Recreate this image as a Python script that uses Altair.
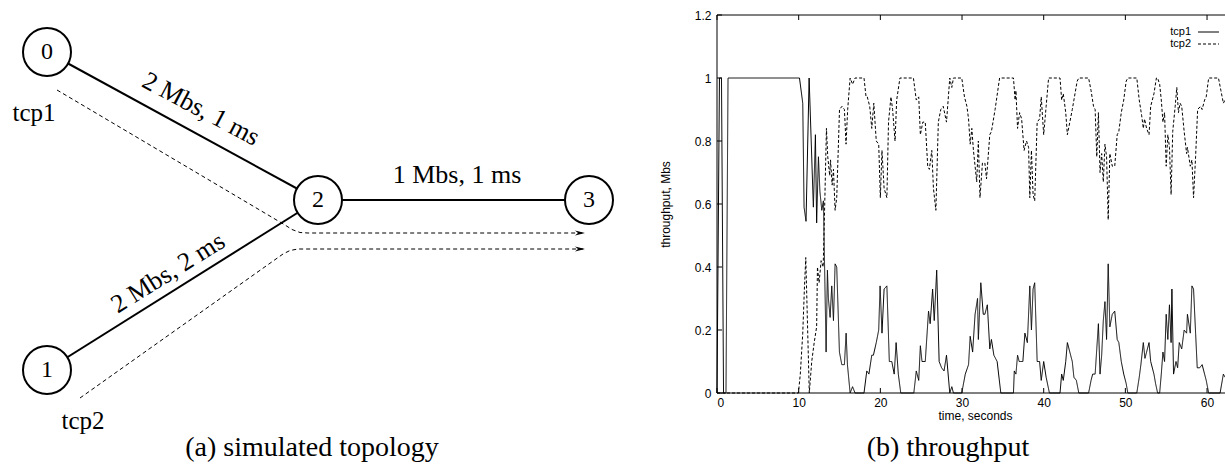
import altair as alt
import pandas as pd

# ------------------------------------------------------------------
# (b) throughput: (time [s], throughput [Mbs])
tcp1_points = [
    (0, 0), (0.3, 1), (0.55, 1), (0.8, 0), (1.1, 0), (1.35, 1), (10.1, 1),
    (10.5, 0.92), (10.66, 0.59), (10.9, 0.545), (11.28, 1.0), (11.8, 0.59),
    (12.05, 0.82), (12.2, 0.54), (12.42, 0.75), (12.6, 0.64), (12.83, 0.58),
    (13.03, 0.61), (13.36, 0.13), (13.52, 0.39), (13.64, 0.30), (13.85, 0.24),
    (14.05, 0.34), (14.26, 0.23), (14.46, 0.41), (14.66, 0.40), (14.99, 0.13),
    (15.28, 0.09), (15.6, 0.09), (15.81, 0.19), (15.97, 0.09), (16.3, 0),
    (16.6, 0.02), (16.9, 0), (18.0, 0), (18.34, 0.07), (18.6, 0.06),
    (18.95, 0.12), (19.15, 0.12), (19.5, 0.16), (19.8, 0.2), (19.97, 0.34),
    (20.2, 0.19), (20.46, 0.33), (20.8, 0.34), (21.1, 0.1), (21.4, 0.1),
    (21.7, 0.06), (21.93, 0.16), (22.2, 0.06), (22.5, 0), (24.1, 0),
    (24.4, 0.07), (24.7, 0.04), (24.9, 0.15), (25.1, 0.1), (25.5, 0.1),
    (25.9, 0.26), (26.1, 0.22), (26.4, 0.33), (26.6, 0.23), (26.9, 0.39),
    (27.2, 0.1), (27.5, 0.08), (27.8, 0.07), (28.1, 0.12), (28.5, 0),
    (28.75, 0.02), (28.95, 0), (29.97, 0), (30.4, 0.06), (30.8, 0.09),
    (31.0, 0.18), (31.3, 0.13), (31.6, 0.25), (31.9, 0.3), (32.0, 0.17),
    (32.3, 0.35), (32.6, 0.25), (32.8, 0.25), (33.1, 0.28), (33.4, 0.14),
    (33.6, 0.17), (33.9, 0.12), (34.3, 0.1), (34.75, 0), (36.3, 0),
    (36.4, 0.07), (36.6, 0.06), (36.8, 0.12), (37.0, 0.1), (37.2, 0.1),
    (37.45, 0.1), (37.7, 0.19), (38.0, 0.16), (38.3, 0.34), (38.5, 0.2),
    (38.7, 0.33), (38.9, 0.35), (39.2, 0.1), (39.5, 0.1), (39.7, 0.04),
    (40.0, 0.1), (40.3, 0.05), (40.7, 0), (42.0, 0), (42.2, 0.06),
    (42.4, 0.04), (42.7, 0.1), (42.9, 0.16), (43.2, 0.13), (43.5, 0.1),
    (43.7, 0.05), (44.0, 0.04), (44.3, 0), (45.5, 0), (45.8, 0.04),
    (46.0, 0.06), (46.3, 0.06), (46.5, 0.14), (46.7, 0.22), (46.9, 0.06),
    (47.1, 0.12), (47.3, 0.23), (47.5, 0.29), (47.7, 0.17), (47.9, 0.41),
    (48.1, 0.21), (48.4, 0.25), (48.7, 0.26), (49.0, 0.17), (49.2, 0.16),
    (49.5, 0.1), (49.8, 0.06), (50.1, 0.03), (50.3, 0), (51.4, 0),
    (51.7, 0.05), (51.9, 0.09), (52.2, 0.16), (52.4, 0.11), (52.6, 0.13),
    (52.9, 0.16), (53.1, 0.1), (53.5, 0.06), (53.7, 0.03), (53.95, 0),
    (54.2, 0), (54.4, 0.06), (54.6, 0.13), (54.8, 0.1), (55.0, 0.25),
    (55.2, 0.17), (55.4, 0.28), (55.6, 0.16), (55.7, 0.33), (55.9, 0.06),
    (56.2, 0.1), (56.4, 0.08), (56.6, 0.16), (56.9, 0.14), (57.2, 0.2),
    (57.5, 0.19), (57.6, 0.25), (57.95, 0.19), (58.15, 0.34), (58.35, 0.33),
    (58.6, 0.19), (58.8, 0.08), (59.1, 0.08), (59.4, 0.09), (59.7, 0.06),
    (59.9, 0.04), (60.2, 0), (61.6, 0), (62.0, 0.06), (62.2, 0.05),
]
tcp2_points = [
    (0, 0), (9.97, 0), (10.2, 0.06), (10.5, 0.19), (10.7, 0.33), (10.87, 0.43),
    (11.3, 0), (11.6, 0.1), (11.9, 0.16), (12.2, 0.21), (12.3, 0.40),
    (12.5, 0.35), (12.75, 0.42), (13.0, 0.40), (13.2, 0.61), (13.4, 0.84),
    (13.56, 0.75), (13.8, 0.69), (13.9, 0.74), (14.1, 0.66), (14.26, 0.71),
    (14.46, 0.58), (14.66, 0.62), (15.0, 0.90), (15.3, 0.91), (15.6, 0.9),
    (15.8, 0.79), (16.0, 0.9), (16.3, 1), (16.6, 0.98), (16.9, 1), (18.0, 1),
    (18.25, 0.94), (18.4, 0.94), (18.7, 0.91), (18.95, 0.84), (19.2, 0.92),
    (19.5, 0.80), (19.8, 0.79), (20.0, 0.62), (20.2, 0.77), (20.46, 0.65),
    (20.8, 0.62), (21.0, 0.86), (21.3, 0.94), (21.5, 0.9), (21.8, 0.8),
    (22.0, 0.93), (22.4, 1), (24.05, 1), (24.4, 0.93), (24.7, 0.94),
    (24.9, 0.82), (25.2, 0.86), (25.5, 0.86), (25.8, 0.72), (26.0, 0.71),
    (26.3, 0.77), (26.5, 0.65), (26.8, 0.58), (27.1, 0.86), (27.4, 0.9),
    (27.7, 0.91), (28.1, 0.86), (28.5, 1), (28.75, 0.97), (28.95, 1),
    (29.97, 1), (30.3, 0.94), (30.6, 0.91), (30.8, 0.87), (31.0, 0.79),
    (31.2, 0.84), (31.4, 0.77), (31.6, 0.72), (31.8, 0.67), (32.0, 0.80),
    (32.2, 0.62), (32.5, 0.73), (32.8, 0.73), (33.0, 0.68), (33.4, 0.82),
    (33.6, 0.83), (34.05, 0.9), (34.6, 1), (36.3, 1), (36.5, 0.93),
    (36.6, 0.96), (36.8, 0.84), (37.05, 0.89), (37.3, 0.87), (37.6, 0.77),
    (37.9, 0.80), (38.15, 0.78), (38.3, 0.62), (38.5, 0.77), (38.7, 0.63),
    (38.9, 0.61), (39.2, 0.86), (39.5, 0.87), (39.7, 0.94), (40.0, 0.82),
    (40.3, 0.91), (40.6, 1), (42.0, 1), (42.2, 0.93), (42.4, 0.95),
    (42.7, 0.89), (42.9, 0.82), (43.2, 0.86), (43.5, 0.9), (43.7, 0.93),
    (44.1, 0.99), (44.3, 1), (45.5, 1), (45.8, 0.96), (46.1, 0.91),
    (46.3, 0.9), (46.5, 0.75), (46.7, 0.89), (46.9, 0.70), (47.1, 0.76),
    (47.3, 0.67), (47.5, 0.79), (47.7, 0.75), (47.9, 0.55), (48.1, 0.76),
    (48.4, 0.72), (48.7, 0.72), (49.0, 0.82), (49.2, 0.83), (49.5, 0.89),
    (49.8, 0.93), (50.1, 0.99), (50.3, 1), (51.4, 1), (51.7, 0.93),
    (52.0, 0.88), (52.2, 0.84), (52.35, 0.87), (52.6, 0.84), (52.9, 0.82),
    (53.1, 0.91), (53.5, 0.95), (53.8, 1), (53.95, 1), (54.2, 0.98),
    (54.4, 0.93), (54.6, 0.86), (54.8, 0.89), (55.0, 0.72), (55.2, 0.82),
    (55.4, 0.78), (55.6, 0.63), (55.8, 0.83), (56.1, 0.91), (56.3, 0.97),
    (56.5, 0.89), (56.7, 0.92), (56.9, 0.91), (57.2, 0.83), (57.5, 0.76),
    (57.6, 0.78), (57.95, 0.72), (58.15, 0.74), (58.35, 0.62), (58.6, 0.75),
    (58.85, 0.90), (59.2, 0.91), (59.4, 0.9), (59.7, 0.93), (59.9, 0.94),
    (60.2, 1), (61.4, 1), (61.7, 0.96), (62.0, 0.92), (62.2, 0.93),
]
series_names = ["tcp1", "tcp2"]
x_tick_values = [0, 10, 20, 30, 40, 50, 60]
y_tick_values = [0, 0.2, 0.4, 0.6, 0.8, 1.0, 1.2]
x_title = "time, seconds"
y_title = "throughput, Mbs"

# ------------------------------------------------------------------
# (a) simulated topology, in figure (layout) coordinates
node_ids = ["0", "1", "2", "3"]
node_x = [47, 47, 318, 589]
node_y = [52, 370, 200, 200]
link_ends = [("0", "2"), ("1", "2"), ("2", "3")]
link_texts = ["2 Mbs, 1 ms", "2 Mbs, 2 ms", "1 Mbs, 1 ms"]
link_text_x = [201, 168, 457]
link_text_y = [109, 273, 175]
link_text_angle = [28, 328, 0]
flow_paths = {
    "tcp1": [(57, 90), (285, 225), (292, 229.5), (300, 232.5), (308, 233), (585, 233)],
    "tcp2": [(80, 398), (283, 254), (290, 250.5), (298, 249), (585, 249)],
}
flow_text_x = [34, 83]
flow_text_y = [113, 421]
captions = ["(a) simulated topology", "(b) throughput"]
caption_x = [312, 948]
caption_y = [456, 456]

# ------------------------------------------------------------------
# layout
LEFT, TOP, W, H = 717, 15, 508, 378
X_MAX = 62.2
SANS = "Liberation Sans"
SERIF = "Liberation Serif"
FS = 12

xs = alt.Scale(domain=[0, X_MAX], nice=False, zero=False)
ys = alt.Scale(domain=[0, 1.2], nice=False, zero=False)
dxs = alt.Scale(domain=[LEFT, LEFT + W], nice=False, zero=False)
dys = alt.Scale(domain=[TOP, TOP + H], nice=False, zero=False, reverse=True)

rows = []
for name, pts in zip(series_names, [tcp1_points, tcp2_points]):
    for i, (t, v) in enumerate(pts):
        rows.append({"series": name, "i": i, "t": t, "v": v})
df = pd.DataFrame(rows)

x_axis = alt.Axis(values=x_tick_values, format="d", title=x_title, domain=False,
                  ticks=False, grid=False, labelFont=SANS, labelFontSize=FS,
                  labelColor="black", labelPadding=4, titleFont=SANS,
                  titleFontSize=FS, titleFontWeight="normal", titleColor="black",
                  titleX=258, titleY=22, titleBaseline="middle", titleAlign="center")
y_axis = alt.Axis(values=y_tick_values, format="~g", title=y_title, domain=False,
                  ticks=False, grid=False, labelFont=SANS, labelFontSize=FS,
                  labelColor="black", labelPadding=6, titleFont=SANS,
                  titleFontSize=FS, titleFontWeight="normal", titleColor="black",
                  titleX=-52, titleY=H / 2, titleAngle=270,
                  titleBaseline="middle", titleAlign="center")

lines = alt.Chart(df).mark_line(color="black", strokeWidth=1).encode(
    x=alt.X("t:Q", scale=xs, axis=x_axis),
    y=alt.Y("v:Q", scale=ys, axis=y_axis),
    strokeDash=alt.StrokeDash("series:N", scale=alt.Scale(domain=series_names,
                              range=[[1, 0], [3, 2]]), legend=None),
    detail="series:N",
    order="i:Q",
)

one = pd.DataFrame({"k": [0]})
frame_top = alt.Chart(one).mark_rule(color="black", strokeWidth=1).encode(
    x=alt.value(0), x2=alt.value(W), y=alt.value(0))
frame_left = alt.Chart(one).mark_rule(color="black", strokeWidth=1).encode(
    x=alt.value(0), y=alt.value(0), y2=alt.value(H))
frame_bottom = alt.Chart(one).mark_rule(color="black", strokeWidth=1).encode(
    x=alt.value(0), x2=alt.value(W), y=alt.value(H))

xt = pd.DataFrame({"t": x_tick_values})
yt = pd.DataFrame({"v": y_tick_values})
ticks_bottom = alt.Chart(xt).mark_rule(color="black").encode(
    x=alt.X("t:Q", scale=xs), y=alt.value(H - 5), y2=alt.value(H))
ticks_top = alt.Chart(xt).mark_rule(color="black").encode(
    x=alt.X("t:Q", scale=xs), y=alt.value(0), y2=alt.value(5))
ticks_left = alt.Chart(yt).mark_rule(color="black").encode(
    y=alt.Y("v:Q", scale=ys), x=alt.value(0), x2=alt.value(5))

legend_layers = []
for k, (name, dash) in enumerate(zip(series_names, [[1, 0], [3, 2]])):
    ly = 17 + k * 12
    ldf = pd.DataFrame({"name": [name]})
    legend_layers.append(alt.Chart(ldf).mark_text(
        font=SANS, fontSize=11, align="right", baseline="middle", color="black"
    ).encode(text="name:N", x=alt.value(474), y=alt.value(ly)))
    legend_layers.append(alt.Chart(ldf).mark_rule(
        color="black", strokeWidth=1, strokeDash=dash
    ).encode(x=alt.value(481), x2=alt.value(502), y=alt.value(ly)))

plot = alt.layer(lines, frame_top, frame_left, frame_bottom,
                 ticks_bottom, ticks_top, ticks_left, *legend_layers)

# ------------------------------------------------------------------
# diagram layers
pos = {n: (x, y) for n, x, y in zip(node_ids, node_x, node_y)}
nodes_df = pd.DataFrame({"id": node_ids, "x": node_x, "y": node_y})
links_df = pd.DataFrame([{"x": pos[a][0], "y": pos[a][1], "x2": pos[b][0], "y2": pos[b][1]}
                         for a, b in link_ends])
link_lab_df = pd.DataFrame({"label": link_texts, "x": link_text_x, "y": link_text_y,
                            "angle": link_text_angle})
flow_rows = []
for name, pts in flow_paths.items():
    for i, (x, y) in enumerate(pts):
        flow_rows.append({"flow": name, "i": i, "x": x, "y": y})
flows_df = pd.DataFrame(flow_rows)
arrows_df = pd.DataFrame([{"flow": n, "x": p[-1][0], "y": p[-1][1]} for n, p in flow_paths.items()])
flow_lab_df = pd.DataFrame({"label": series_names, "x": flow_text_x, "y": flow_text_y})
cap_df = pd.DataFrame({"label": captions, "x": caption_x, "y": caption_y})

DX = lambda f="x": alt.X(f"{f}:Q", scale=dxs, axis=None)
DY = lambda f="y": alt.Y(f"{f}:Q", scale=dys, axis=None)

edges = alt.Chart(links_df).mark_rule(color="black", strokeWidth=2).encode(
    x=DX(), y=DY(), x2="x2:Q", y2="y2:Q")
flows = alt.Chart(flows_df).mark_line(color="black", strokeWidth=1, strokeDash=[4, 3]).encode(
    x=DX(), y=DY(), detail="flow:N", order="i:Q")
arrow_shape = "M0,0L-2,-0.5L-1.4,0L-2,0.5Z"
arrows = alt.Chart(arrows_df).mark_point(
    shape=arrow_shape, size=100, filled=True, color="black", opacity=1
).encode(x=DX(), y=DY())
nodes = alt.Chart(nodes_df).mark_point(
    shape="circle", size=2304, filled=True, fill="white", stroke="black",
    strokeWidth=2, opacity=1, fillOpacity=1, strokeOpacity=1
).encode(x=DX(), y=DY())
node_labels = alt.Chart(nodes_df).mark_text(
    font=SERIF, fontSize=24, color="black", baseline="middle", align="center"
).encode(x=DX(), y=DY(), text="id:N")
link_labels = alt.Chart(link_lab_df).mark_text(
    font=SERIF, fontSize=26, color="black", baseline="middle", align="center"
).encode(x=DX(), y=DY(), text="label:N", angle=alt.Angle("angle:Q", scale=None))
flow_labels = alt.Chart(flow_lab_df).mark_text(
    font=SERIF, fontSize=25, color="black", baseline="middle", align="center"
).encode(x=DX(), y=DY(), text="label:N")
cap_labels = alt.Chart(cap_df).mark_text(
    font=SERIF, fontSize=28, color="black", baseline="alphabetic", align="center"
).encode(x=DX(), y=DY(), text="label:N")

diagram = alt.layer(edges, flows, arrows, nodes, node_labels, link_labels,
                    flow_labels, cap_labels)

chart = alt.layer(plot, diagram).resolve_scale(
    x="independent", y="independent"
).properties(
    width=W, height=H,
    padding={"left": LEFT, "top": TOP, "right": 0, "bottom": 474 - TOP - H},
    autosize=alt.AutoSizeParams(type="none"),
    background="white",
).configure_view(stroke="transparent")

chart.save("out.html", embed_options={"renderer": "svg", "actions": False})
